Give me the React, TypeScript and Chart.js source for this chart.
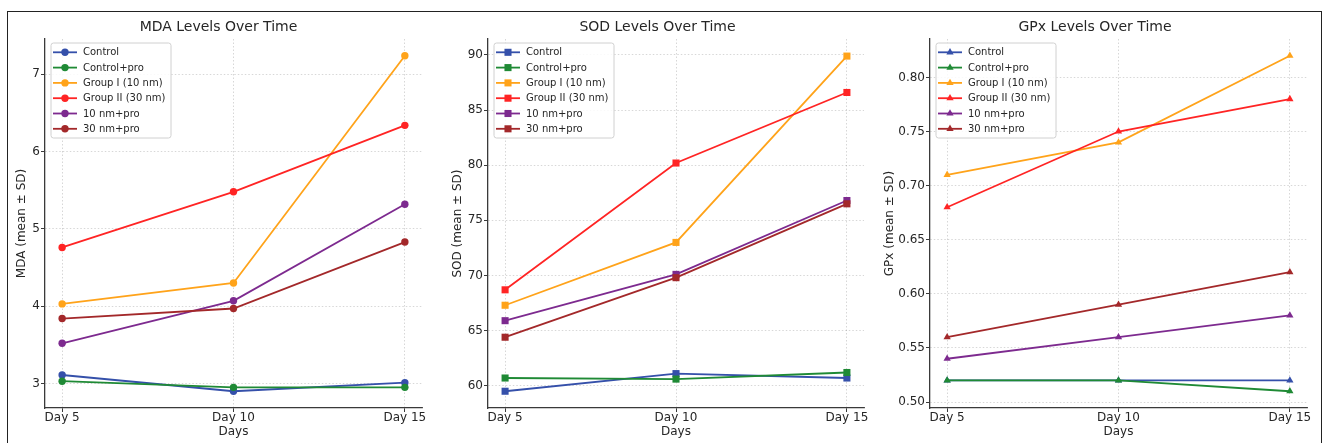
import React, { useEffect, useRef } from 'react';
import { Chart, registerables } from 'chart.js';

Chart.register(...registerables);

// ---------- data ----------
const DAYS = [5, 10, 15];
const DAY_LABELS = ['Day 5', 'Day 10', 'Day 15'];
const SERIES_NAMES = ['Control', 'Control+pro', 'Group I (10 nm)', 'Group II (30 nm)', '10 nm+pro', '30 nm+pro'];
const SERIES_COLORS = ['#3550aa', '#1f8a35', '#ffa31a', '#ff2424', '#7d2a8f', '#a3282a'];

const MDA_CONTROL = [3.11, 2.9, 3.01];
const MDA_CONTROL_PRO = [3.03, 2.95, 2.95];
const MDA_GROUP_I = [4.03, 4.3, 7.24];
const MDA_GROUP_II = [4.76, 5.48, 6.34];
const MDA_10NM_PRO = [3.52, 4.07, 5.32];
const MDA_30NM_PRO = [3.84, 3.97, 4.83];

const SOD_CONTROL = [59.5, 61.1, 60.7];
const SOD_CONTROL_PRO = [60.7, 60.6, 61.2];
const SOD_GROUP_I = [67.3, 73.0, 89.9];
const SOD_GROUP_II = [68.7, 80.2, 86.6];
const SOD_10NM_PRO = [65.9, 70.1, 76.8];
const SOD_30NM_PRO = [64.4, 69.8, 76.5];

const GPX_CONTROL = [0.52, 0.52, 0.52];
const GPX_CONTROL_PRO = [0.52, 0.52, 0.51];
const GPX_GROUP_I = [0.71, 0.74, 0.82];
const GPX_GROUP_II = [0.68, 0.75, 0.78];
const GPX_10NM_PRO = [0.54, 0.56, 0.58];
const GPX_30NM_PRO = [0.56, 0.59, 0.62];

const MDA_TICKS = [3, 4, 5, 6, 7];
const SOD_TICKS = [60, 65, 70, 75, 80, 85, 90];
const GPX_TICKS = [0.5, 0.55, 0.6, 0.65, 0.7, 0.75, 0.8];

// ---------- layout / style ----------
const W = 1325;
const H = 443;
const CHART_BOTTOM = 408;
const FONT = 'DejaVu Sans';
const TEXT = '#262626';
const SPINE = '#3a3a3a';

type PanelCfg = {
  title: string;
  yTitle: string;
  series: number[][];
  ticks: number[];
  yMin: number;
  yMax: number;
  decimals: number;
  pointStyle: 'circle' | 'rect' | 'triangle';
  pointRadius: number;
  yBoxLeft: number;
  chartLeft: number;
  chartRight: number;
};

const PANELS: PanelCfg[] = [
  {
    title: 'MDA Levels Over Time',
    yTitle: 'MDA (mean ± SD)',
    series: [MDA_CONTROL, MDA_CONTROL_PRO, MDA_GROUP_I, MDA_GROUP_II, MDA_10NM_PRO, MDA_30NM_PRO],
    ticks: MDA_TICKS,
    yMin: 2.683,
    yMax: 7.457,
    decimals: 0,
    pointStyle: 'circle',
    pointRadius: 3.7,
    yBoxLeft: 15,
    chartLeft: 45,
    chartRight: 422,
  },
  {
    title: 'SOD Levels Over Time',
    yTitle: 'SOD (mean ± SD)',
    series: [SOD_CONTROL, SOD_CONTROL_PRO, SOD_GROUP_I, SOD_GROUP_II, SOD_10NM_PRO, SOD_30NM_PRO],
    ticks: SOD_TICKS,
    yMin: 57.98,
    yMax: 91.45,
    decimals: 0,
    pointStyle: 'rect',
    pointRadius: 5,
    yBoxLeft: 451,
    chartLeft: 488,
    chartRight: 864,
  },
  {
    title: 'GPx Levels Over Time',
    yTitle: 'GPx (mean ± SD)',
    series: [GPX_CONTROL, GPX_CONTROL_PRO, GPX_GROUP_I, GPX_GROUP_II, GPX_10NM_PRO, GPX_30NM_PRO],
    ticks: GPX_TICKS,
    yMin: 0.4945,
    yMax: 0.8355,
    decimals: 2,
    pointStyle: 'triangle',
    pointRadius: 4.2,
    yBoxLeft: 883,
    chartLeft: 930,
    chartRight: 1307,
  },
];

function drawMarker(ctx: CanvasRenderingContext2D, style: string, x: number, y: number, r: number) {
  ctx.beginPath();
  if (style === 'circle') {
    ctx.arc(x, y, r, 0, Math.PI * 2);
  } else if (style === 'rect') {
    const s = r * Math.SQRT1_2;
    ctx.rect(x - s, y - s, 2 * s, 2 * s);
  } else {
    ctx.moveTo(x, y - r);
    ctx.lineTo(x + r * Math.sin((2 * Math.PI) / 3), y - r * Math.cos((2 * Math.PI) / 3));
    ctx.lineTo(x + r * Math.sin((4 * Math.PI) / 3), y - r * Math.cos((4 * Math.PI) / 3));
    ctx.closePath();
  }
  ctx.fill();
}

const boxLegend = {
  id: 'boxLegend',
  afterDatasetsDraw(chart: any) {
    const ctx: CanvasRenderingContext2D = chart.ctx;
    const { left, top } = chart.chartArea;
    const bx = left + 6;
    const by = top + 4;
    const bw = 120;
    const bh = 95;
    const style = chart.options.plugins.boxLegend.pointStyle;
    const pr = chart.options.plugins.boxLegend.pointRadius;
    ctx.save();
    ctx.beginPath();
    const rr = 2.5;
    ctx.moveTo(bx + rr, by);
    ctx.lineTo(bx + bw - rr, by);
    ctx.quadraticCurveTo(bx + bw, by, bx + bw, by + rr);
    ctx.lineTo(bx + bw, by + bh - rr);
    ctx.quadraticCurveTo(bx + bw, by + bh, bx + bw - rr, by + bh);
    ctx.lineTo(bx + rr, by + bh);
    ctx.quadraticCurveTo(bx, by + bh, bx, by + bh - rr);
    ctx.lineTo(bx, by + rr);
    ctx.quadraticCurveTo(bx, by, bx + rr, by);
    ctx.closePath();
    ctx.fillStyle = 'rgba(255,255,255,0.85)';
    ctx.fill();
    ctx.strokeStyle = '#d0d0d0';
    ctx.lineWidth = 1;
    ctx.stroke();
    chart.data.datasets.forEach((ds: any, i: number) => {
      const cy = by + 9.3 + i * 15.3;
      ctx.strokeStyle = ds.borderColor;
      ctx.lineWidth = 1.8;
      ctx.beginPath();
      ctx.moveTo(bx + 2, cy);
      ctx.lineTo(bx + 26, cy);
      ctx.stroke();
      ctx.fillStyle = ds.borderColor;
      drawMarker(ctx, style, bx + 14, cy, pr);
      ctx.fillStyle = TEXT;
      ctx.font = `10px "${FONT}"`;
      ctx.textBaseline = 'middle';
      ctx.textAlign = 'left';
      ctx.fillText(ds.label, bx + 32, cy + 0.5);
    });
    ctx.restore();
  },
};

function Panel({ cfg }: { cfg: PanelCfg }) {
  const ref = useRef<HTMLCanvasElement | null>(null);
  useEffect(() => {
    if (!ref.current) return;
    const datasets = cfg.series.map((vals, i) => ({
      label: SERIES_NAMES[i],
      data: DAYS.map((d, j) => ({ x: d, y: vals[j] })),
      borderColor: SERIES_COLORS[i],
      backgroundColor: SERIES_COLORS[i],
      borderWidth: 1.8,
      pointStyle: cfg.pointStyle,
      pointRadius: cfg.pointRadius,
      pointBorderWidth: 0,
      pointHoverRadius: cfg.pointRadius,
      tension: 0,
      order: SERIES_NAMES.length - i,
    }));
    const chart = new Chart(ref.current, {
      type: 'line',
      data: { datasets },
      plugins: [boxLegend],
      options: {
        responsive: false,
        animation: false,
        devicePixelRatio: 1,
        layout: {
          padding: { left: cfg.yBoxLeft, right: W - cfg.chartRight, top: 0, bottom: 4 },
        },
        plugins: {
          legend: { display: false },
          tooltip: { enabled: false },
          title: {
            display: true,
            text: cfg.title,
            color: TEXT,
            font: { family: FONT, size: 14, weight: 'normal' },
            padding: { top: 18.6, bottom: 3.6 },
          },
          boxLegend: { pointStyle: cfg.pointStyle, pointRadius: cfg.pointRadius },
        } as any,
        scales: {
          x: {
            type: 'linear',
            min: 4.5,
            max: 15.5,
            afterBuildTicks: (s: any) => {
              s.ticks = DAYS.map((v) => ({ value: v }));
            },
            afterFit: (s: any) => {
              s.height = H - 4 - CHART_BOTTOM;
            },
            ticks: {
              autoSkip: false,
              maxRotation: 0,
              padding: -1,
              color: TEXT,
              font: { family: FONT, size: 12 },
              callback: (_v: any, idx: number) => DAY_LABELS[idx],
            },
            grid: {
              color: 'rgba(0,0,0,0.2)',
              lineWidth: 0.8,
              tickColor: SPINE,
              tickWidth: 1,
              tickLength: 4,
              tickBorderDash: [],
            },
            border: { display: true, color: SPINE, width: 1.3, dash: [1.5, 2] },
            title: {
              display: true,
              text: 'Days',
              color: TEXT,
              font: { family: FONT, size: 12 },
              padding: 0,
            },
          },
          y: {
            type: 'linear',
            min: cfg.yMin,
            max: cfg.yMax,
            afterBuildTicks: (s: any) => {
              s.ticks = cfg.ticks.map((v) => ({ value: v }));
            },
            afterFit: (s: any) => {
              s.width = cfg.chartLeft - cfg.yBoxLeft;
            },
            ticks: {
              padding: 1,
              color: TEXT,
              font: { family: FONT, size: 12 },
              callback: (v: any) => Number(v).toFixed(cfg.decimals),
            },
            grid: {
              color: 'rgba(0,0,0,0.2)',
              lineWidth: 0.8,
              tickColor: SPINE,
              tickWidth: 1,
              tickLength: 4,
              tickBorderDash: [],
            },
            border: { display: true, color: SPINE, width: 1.3, dash: [1.5, 2] },
            title: {
              display: true,
              text: cfg.yTitle,
              color: TEXT,
              font: { family: FONT, size: 12 },
              padding: 0,
            },
          },
        },
      } as any,
    });
    return () => chart.destroy();
  }, [cfg]);
  return (
    <canvas
      ref={ref}
      width={W}
      height={H}
      style={{ position: 'absolute', left: 0, top: 0, width: W, height: H }}
    />
  );
}

export default function App() {
  return (
    <div
      style={{
        position: 'absolute',
        left: 0,
        top: 0,
        width: W,
        height: H,
        overflow: 'hidden',
        background: '#ffffff',
      }}
    >
      <div
        style={{
          position: 'absolute',
          left: 7,
          top: 11,
          width: 1315,
          height: 460,
          border: '1px solid #222',
          boxSizing: 'border-box',
        }}
      />
      {PANELS.map((p) => (
        <Panel key={p.title} cfg={p} />
      ))}
    </div>
  );
}
